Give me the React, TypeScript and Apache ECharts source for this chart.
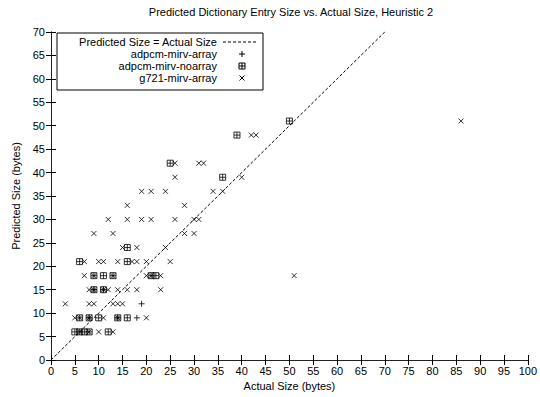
import React, { useEffect, useRef } from "react";
import * as echarts from "echarts";

const titleText = "Predicted Dictionary Entry Size vs. Actual Size, Heuristic 2";
const xName = "Actual Size (bytes)";
const yName = "Predicted Size (bytes)";
const seriesNames = ["Predicted Size = Actual Size", "adpcm-mirv-array", "adpcm-mirv-noarray", "g721-mirv-array"];

const idealLine: number[][] = [[0, 0], [70, 70]];

const adpcmArray: number[][] = [
  [19, 12], [18, 9], [9, 15], [11, 15], [14, 9], [8, 9],
];

const adpcmNoarray: number[][] = [
  [50, 51], [39, 48], [25, 42], [36, 39], [16, 24], [6, 21], [16, 21],
  [9, 18], [11, 18], [13, 18], [21, 18], [22, 18], [9, 15], [11, 15],
  [6, 9], [8, 9], [10, 9], [14, 9], [16, 9], [5, 6], [6, 6], [7, 6], [8, 6], [12, 6],
];

const g721Array: number[][] = [
  [86, 51], [51, 18], [42, 48], [43, 48], [26, 42], [31, 42], [32, 42],
  [26, 39], [40, 39], [19, 36], [21, 36], [24, 36], [34, 36], [36, 36],
  [16, 33], [28, 33], [12, 30], [16, 30], [19, 30], [21, 30], [26, 30], [30, 30], [31, 30],
  [9, 27], [13, 27], [28, 27], [30, 27], [15, 24], [18, 24], [24, 24],
  [7, 21], [10, 21], [11, 21], [14, 21], [17, 21], [18, 21], [20, 21], [25, 21],
  [7, 18], [9, 18], [13, 18], [20, 18], [21, 18], [23, 18],
  [8, 15], [9, 15], [11, 15], [12, 15], [14, 15], [16, 15], [18, 15], [23, 15],
  [3, 12], [8, 12], [9, 12], [13, 12], [14, 12], [15, 12],
  [5, 9], [6, 9], [8, 9], [11, 9], [14, 9], [20, 9],
  [6, 6], [8, 6], [10, 6], [13, 6],
];

const FONT = "'Liberation Sans', Arial, Helvetica, sans-serif";
const SYM_PLUS = "path://M0,4L8,4M4,0L4,8";
const SYM_CROSS = "path://M0,0L8,8M8,0L0,8";
const SYM_BOX = "path://M0,0L8,0L8,8L0,8ZM0,4L8,4M4,0L4,8";

export default function App() {
  const ref = useRef<HTMLDivElement>(null);
  useEffect(() => {
    if (!ref.current) return;
    const chart = echarts.init(ref.current, null, { renderer: "svg" });
    const axisCommon = {
      type: "value" as const,
      axisLine: { show: true, lineStyle: { color: "#222", width: 1 } },
      axisTick: { show: true, inside: true, length: 5, lineStyle: { color: "#000" } },
      splitLine: { show: false },
    };
    const markerStyle = { color: "transparent", borderColor: "#000", borderWidth: 1 };
    const lx = 57, ly = 33, lw = 206, lh = 57;
    const tx = 217, sx = 242;
    const rows = [42, 54, 66, 78];
    const lineSeg = (x1: number, y1: number, x2: number, y2: number) => ({
      type: "line", shape: { x1, y1, x2, y2 }, style: { stroke: "#000", lineWidth: 1 },
    });
    chart.setOption({
      animation: false,
      backgroundColor: "#fff",
      grid: { left: 51, right: 9, top: 32, bottom: 37 },
      xAxis: [
        {
          ...axisCommon, min: 0, max: 100, interval: 5,
          name: xName, nameLocation: "middle", nameGap: 20,
          nameTextStyle: { fontFamily: FONT, fontSize: 11, color: "#000" },
          axisLabel: { fontFamily: FONT, fontSize: 11, color: "#000", margin: 5 },
        },
        { ...axisCommon, position: "top", min: 0, max: 100, interval: 5, axisLabel: { show: false } },
      ],
      yAxis: [
        {
          ...axisCommon, min: 0, max: 70, interval: 5,
          name: yName, nameLocation: "middle", nameGap: 30,
          nameTextStyle: { fontFamily: FONT, fontSize: 11, color: "#000" },
          axisLabel: { fontFamily: FONT, fontSize: 11, color: "#000", margin: 6 },
        },
        { ...axisCommon, position: "right", min: 0, max: 70, interval: 5, axisLabel: { show: false } },
      ],
      series: [
        {
          name: seriesNames[0], type: "line", data: idealLine, showSymbol: false,
          lineStyle: { color: "#000", width: 1, type: [3, 2] }, silent: true,
        },
        {
          name: seriesNames[1], type: "scatter", data: adpcmArray,
          symbol: SYM_PLUS, symbolSize: 6, itemStyle: markerStyle,
        },
        {
          name: seriesNames[2], type: "scatter", data: adpcmNoarray,
          symbol: SYM_BOX, symbolSize: 6, itemStyle: markerStyle,
        },
        {
          name: seriesNames[3], type: "scatter", data: g721Array,
          symbol: SYM_CROSS, symbolSize: 5, itemStyle: markerStyle,
        },
      ],
      graphic: [
        {
          type: "text", x: 291, y: 12,
          style: { text: titleText, fontFamily: FONT, fontSize: 11, fill: "#000", align: "center", verticalAlign: "middle" },
        },
        {
          type: "rect", shape: { x: lx, y: ly, width: lw, height: lh },
          style: { fill: "#fff", stroke: "#000", lineWidth: 1 }, z: 10,
        },
        ...seriesNames.map((n, i) => ({
          type: "text", x: tx, y: rows[i], z: 11,
          style: { text: n, fontFamily: FONT, fontSize: 11, fill: "#000", align: "right", verticalAlign: "middle" },
        })),
        { ...lineSeg(223, rows[0], 257, rows[0]), style: { stroke: "#000", lineWidth: 1, lineDash: [3, 2] }, z: 11 },
        { ...lineSeg(sx - 3, rows[1], sx + 3, rows[1]), z: 11 },
        { ...lineSeg(sx, rows[1] - 3, sx, rows[1] + 3), z: 11 },
        { type: "rect", shape: { x: sx - 3, y: rows[2] - 3, width: 6, height: 6 }, style: { fill: "transparent", stroke: "#000", lineWidth: 1 }, z: 11 },
        { ...lineSeg(sx - 3, rows[2], sx + 3, rows[2]), z: 11 },
        { ...lineSeg(sx, rows[2] - 3, sx, rows[2] + 3), z: 11 },
        { ...lineSeg(sx - 2.5, rows[3] - 2.5, sx + 2.5, rows[3] + 2.5), z: 11 },
        { ...lineSeg(sx + 2.5, rows[3] - 2.5, sx - 2.5, rows[3] + 2.5), z: 11 },
      ],
    });
    return () => chart.dispose();
  }, []);
  return <div ref={ref} style={{ position: "fixed", left: 0, top: 0, width: 540, height: 397 }} />;
}
